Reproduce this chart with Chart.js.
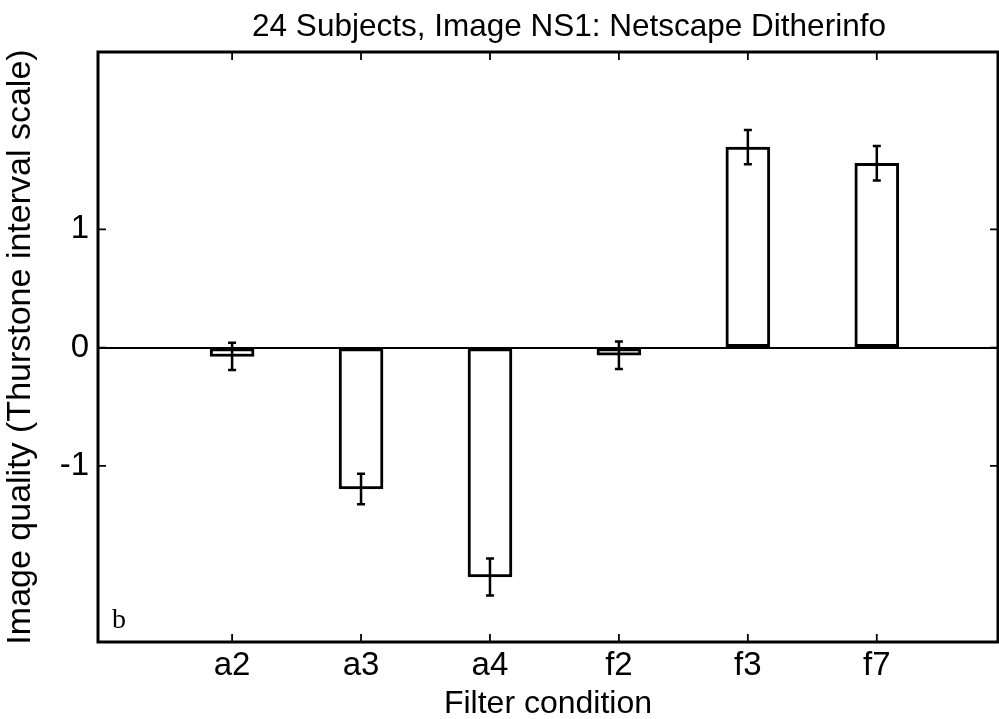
<!DOCTYPE html>
<html>
<head>
<meta charset="utf-8">
<script src="https://cdn.jsdelivr.net/npm/chart.js@4.4.0/dist/chart.umd.min.js"></script>
<style>
  body { margin: 0; background: #fff; }
  canvas { display: block; }
</style>
</head>
<body>
<canvas id="chart" width="999" height="719"></canvas>
<script>
// data
const categories = ['a2', 'a3', 'a4', 'f2', 'f3', 'f7'];
const quality = [-0.075, -1.196, -1.94, -0.065, 1.695, 1.559];
const errors = [0.115, 0.13, 0.157, 0.117, 0.145, 0.145];
const yTicks = [-1, 0, 1];
const chartTitle = '24 Subjects, Image NS1: Netscape Ditherinfo';

const FONT = "'Liberation Sans', Arial, Helvetica, sans-serif";

// title sits a bit right of centre in the original, so it is drawn by hand
const titlePlugin = {
  id: 'offTitle',
  afterDraw(chart) {
    const { ctx } = chart;
    ctx.save();
    ctx.fillStyle = '#000';
    ctx.font = '31.5px ' + FONT;
    ctx.textAlign = 'center';
    ctx.textBaseline = 'middle';
    ctx.fillText(chartTitle, 569, 27);
    ctx.restore();
  }
};

// frame, inward ticks on all four sides, the "b" label
const framePlugin = {
  id: 'frame',
  afterDraw(chart) {
    const { ctx, chartArea: a, scales: { x, y } } = chart;
    ctx.save();
    ctx.strokeStyle = '#000';
    ctx.lineWidth = 1.8;
    const len = 8;
    ctx.beginPath();
    for (let i = 1; i <= categories.length; i++) {
      const px = x.getPixelForValue(i);
      ctx.moveTo(px, a.bottom); ctx.lineTo(px, a.bottom - len);
      ctx.moveTo(px, a.top); ctx.lineTo(px, a.top + len);
    }
    for (const v of yTicks) {
      const py = y.getPixelForValue(v);
      ctx.moveTo(a.left, py); ctx.lineTo(a.left + len, py);
      ctx.moveTo(a.right, py); ctx.lineTo(a.right - len, py);
    }
    ctx.stroke();
    ctx.lineWidth = 3;
    ctx.strokeRect(a.left, a.top, a.right - a.left, a.bottom - a.top);
    ctx.fillStyle = '#000';
    ctx.font = "28px 'Liberation Serif', 'Times New Roman', serif";
    ctx.textBaseline = 'alphabetic';
    ctx.fillText('b', a.left + 14, a.bottom - 14);
    ctx.restore();
  }
};

// error bars with small caps
const errorBarPlugin = {
  id: 'errorBars',
  afterDatasetsDraw(chart) {
    const { ctx, scales: { x, y } } = chart;
    ctx.save();
    ctx.strokeStyle = '#000';
    ctx.lineWidth = 2.5;
    ctx.beginPath();
    quality.forEach((v, i) => {
      const px = x.getPixelForValue(i + 1);
      const top = y.getPixelForValue(v + errors[i]);
      const bot = y.getPixelForValue(v - errors[i]);
      ctx.moveTo(px, top); ctx.lineTo(px, bot);
      ctx.moveTo(px - 4, top); ctx.lineTo(px + 4, top);
      ctx.moveTo(px - 4, bot); ctx.lineTo(px + 4, bot);
    });
    ctx.stroke();
    ctx.restore();
  }
};

new Chart(document.getElementById('chart'), {
  type: 'bar',
  data: {
    datasets: [{
      data: quality.map((v, i) => ({ x: i + 1, y: v })),
      backgroundColor: '#fff',
      borderColor: '#000',
      borderWidth: 3,
      borderSkipped: false,
      barThickness: 44
    }]
  },
  options: {
    responsive: false,
    animation: false,
    layout: { padding: { left: 0, right: 1, top: 52, bottom: 0 } },
    plugins: {
      legend: { display: false },
      tooltip: { enabled: false },
      title: { display: false }
    },
    scales: {
      x: {
        type: 'linear',
        offset: false,
        min: -0.04,
        max: 6.94,
        afterBuildTicks: s => { s.ticks = categories.map((c, i) => ({ value: i + 1 })); },
        afterFit: s => { s.height = 77; },
        ticks: {
          color: '#000',
          font: { family: FONT, size: 33 },
          padding: 4,
          maxRotation: 0,
          autoSkip: false,
          callback: v => categories[v - 1]
        },
        grid: { display: false, drawTicks: false, offset: false },
        border: { display: false },
        title: {
          display: true,
          text: 'Filter condition',
          color: '#000',
          font: { family: FONT, size: 32 },
          padding: { top: 0, bottom: -4 }
        }
      },
      y: {
        min: -2.49,
        max: 2.5,
        afterBuildTicks: s => { s.ticks = yTicks.map(v => ({ value: v })); },
        afterFit: s => { s.width = 98; },
        ticks: {
          color: '#000',
          font: { family: FONT, size: 33 },
          padding: 9,
          callback: v => String(v)
        },
        grid: {
          drawTicks: false,
          lineWidth: 2,
          color: c => (c.tick && c.tick.value === 0 ? '#000' : 'rgba(0,0,0,0)')
        },
        border: { display: false },
        title: {
          display: true,
          text: 'Image quality (Thurstone interval scale)',
          color: '#000',
          font: { family: FONT, size: 34 },
          padding: { top: 0, bottom: 0 }
        }
      }
    }
  },
  plugins: [errorBarPlugin, framePlugin, titlePlugin]
});
</script>
</body>
</html>
